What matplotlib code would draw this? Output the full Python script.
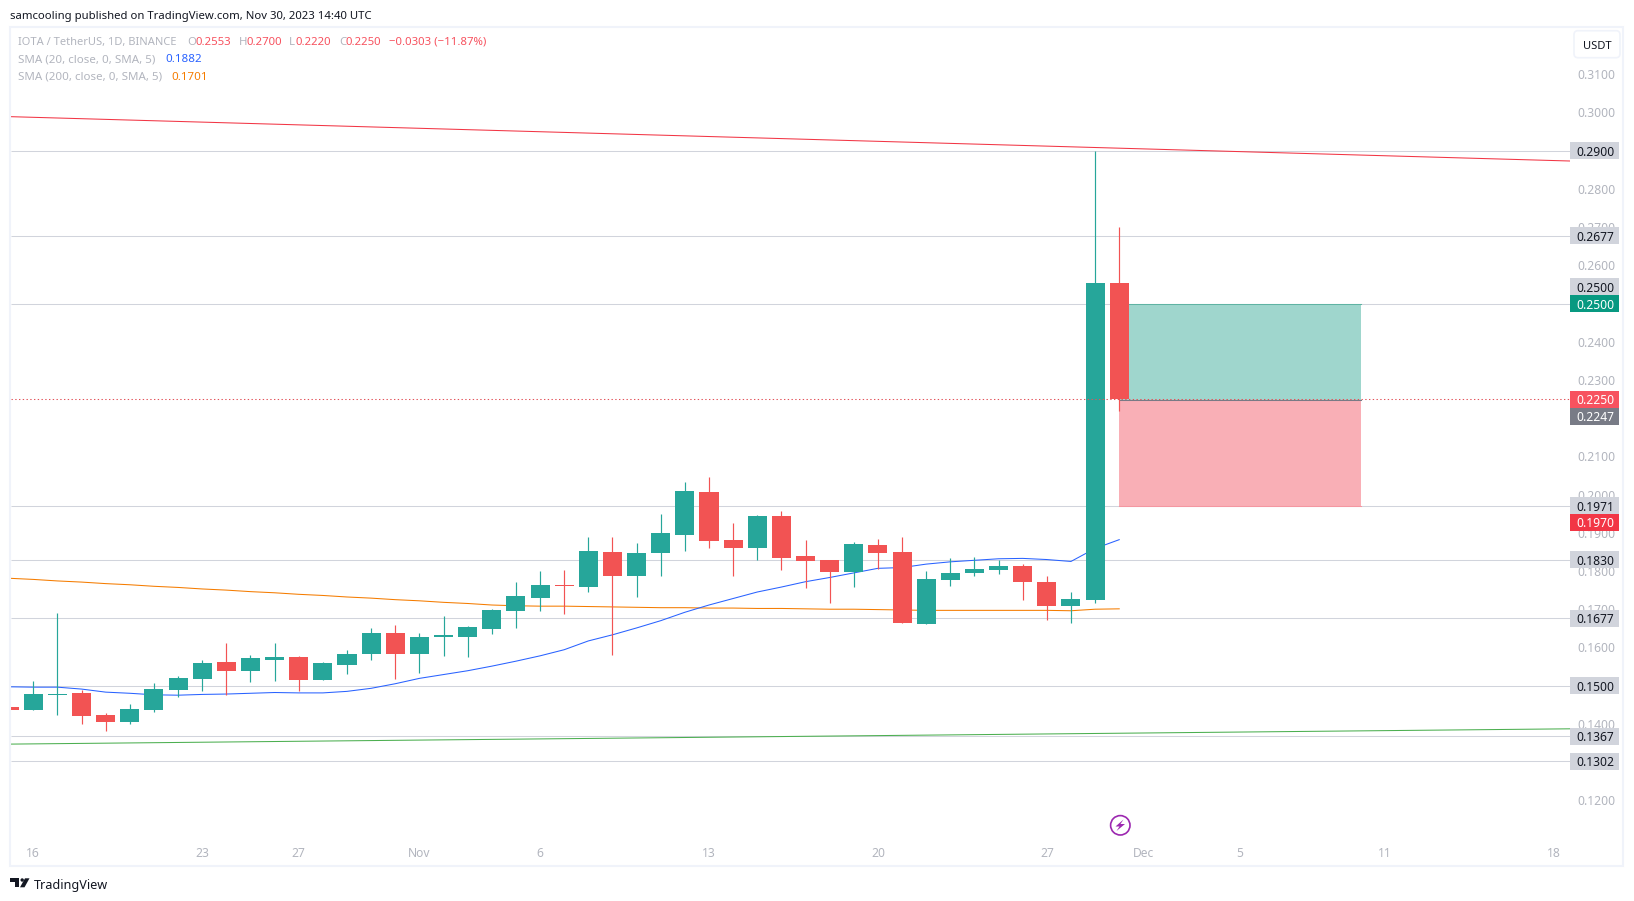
import numpy as np
import matplotlib
matplotlib.use('Agg')
import matplotlib.pyplot as plt
from matplotlib.patches import Rectangle, Circle, Polygon, FancyBboxPatch

plt.rcParams['font.family'] = ['Noto Sans', 'DejaVu Sans']

W, H = 1634, 901

# daily candles, first one is the cut off bar before Oct 16
bar_index = list(range(-1, 46))
opens = [.1444, .1436, .1475, .1480, .1423, .1405, .1436, .1488, .1517, .1561, .1538, .1567,
         .1575, .1514, .1554, .1582, .1637, .1584, .1626, .1628, .1649, .1695, .1729, .1763,
         .1758, .1849, .1786, .1847, .1894, .2006, .1881, .1860, .1943, .1839, .1828, .1797,
         .1867, .1849, .1662, .1776, .1794, .1802, .1813, .1771, .1708, .1724, .2553]
highs = [.1444, .1512, .1690, .1488, .1428, .1452, .1507, .1525, .1567, .1611, .1580, .1611,
         .1577, .1561, .1593, .1650, .1658, .1639, .1683, .1657, .1701, .1771, .1799, .1802,
         .1888, .1888, .1873, .1949, .2032, .2045, .1925, .1946, .1956, .1881, .1828, .1875,
         .1883, .1888, .1799, .1833, .1836, .1828, .1818, .1786, .1745, .2900, .2700]
lows = [.1436, .1436, .1423, .1399, .1381, .1399, .1431, .1470, .1486, .1475, .1509, .1512,
        .1486, .1514, .1530, .1567, .1517, .1534, .1578, .1576, .1636, .1650, .1695, .1687,
        .1745, .1581, .1731, .1786, .1852, .1860, .1786, .1828, .1802, .1755, .1716, .1758,
        .1805, .1665, .1662, .1760, .1786, .1792, .1724, .1673, .1665, .1716, .2220]
closes = [.1436, .1478, .1478, .1420, .1405, .1439, .1491, .1520, .1559, .1538, .1572, .1575,
          .1514, .1559, .1582, .1637, .1582, .1628, .1633, .1654, .1699, .1734, .1763, .1760,
          .1852, .1786, .1847, .1899, .2009, .1878, .1860, .1943, .1833, .1826, .1797, .1870,
          .1847, .1665, .1779, .1794, .1805, .1813, .1771, .1708, .1726, .2554, .2250]

sma20 = [.1497, .1496, .1496, .1491, .1483, .1480, .1476, .1475, .1477, .1478, .1480, .1482,
         .1481, .1481, .1485, .1493, .1505, .1519, .1529, .1539, .1551, .1564, .1578, .1594,
         .1617, .1633, .1651, .1670, .1692, .1711, .1728, .1745, .1758, .1772, .1783, .1795,
         .1807, .1809, .1818, .1824, .1828, .1832, .1833, .1830, .1825, .1859, .1882]
sma200 = [.1781, .1778, .1774, .1771, .1767, .1764, .1760, .1757, .1753, .1750, .1746, .1743,
          .1739, .1736, .1732, .1729, .1725, .1722, .1718, .1715, .1711, .1709, .1708, .1708,
          .1707, .1706, .1705, .1704, .1704, .1703, .1703, .1702, .1702, .1701, .1700, .1700,
          .1699, .1698, .1697, .1697, .1697, .1697, .1697, .1697, .1696, .1700, .1701]

# drawn levels
levels = [.2900, .2677, .2500, .1971, .1830, .1677, .1500, .1367, .1302]
last_close = .2250
trend_red_x = [-0.924, 63.68]
trend_red_y = [.2989, .2873]
trend_green_x = [-0.924, 63.68]
trend_green_y = [.1347, .1387]

# long position tool
pos_start, pos_end = 45, 55
pos_target, pos_entry, pos_stop = .2500, .2247, .1970

ytick_vals = [.12, .13, .14, .15, .16, .17, .18, .19, .20, .21, .22, .23, .24, .25, .26, .27, .28, .29, .30, .31]
xtick_pos = [0, 7, 11, 16, 21, 28, 35, 42, 46, 50, 56, 63]
xtick_labels = ['16', '23', '27', 'Nov', '6', '13', '20', '27', 'Dec', '5', '11', '18']

# price tags: label, y where the tag sits, fill, text colour
tag_labels = ['0.2900', '0.2677', '0.2500', '0.2500', '0.2250', '0.2247', '0.1971', '0.1970',
              '0.1830', '0.1677', '0.1500', '0.1367', '0.1302']
tag_y = [.2900, .2677, .2544, .2500, .2250, .2205, .1971, .1927, .1830, .1677, .1500, .1367, .1302]
tag_fill = ['#d1d4dc', '#d1d4dc', '#d1d4dc', '#089981', '#f7525f', '#787b86', '#d1d4dc', '#f23645',
            '#d1d4dc', '#d1d4dc', '#d1d4dc', '#d1d4dc', '#d1d4dc']
tag_text = ['#131722', '#131722', '#131722', 'white', 'white', 'white', '#131722', 'white',
            '#131722', '#131722', '#131722', '#131722', '#131722']

UP = '#26a69a'
DOWN = '#f25353'
GREY = '#b2b5be'
LW = 0.75

fig = plt.figure(figsize=(W / 100, H / 100), dpi=100, facecolor='white')

# price pane, pixels 11..1570 across and 27..841 down
ax = fig.add_axes([11 / W, 1 - 841 / H, 1559 / W, 814 / H])
ax.set_xlim(-0.924, 63.68)
ax.set_ylim(.10934, .32237)
for s in ax.spines.values():
    s.set_visible(False)

ax.hlines(levels, -0.924, 63.68, color='#d1d4dc', lw=LW, zorder=1)
ax.plot(bar_index, sma200, color='#f57c00', lw=LW, zorder=2)
ax.plot(bar_index, sma20, color='#2962ff', lw=LW, zorder=2)

o = np.array(opens)
c = np.array(closes)
colors = [UP if b >= a else DOWN for a, b in zip(o, c)]
ax.vlines(bar_index, lows, highs, color=colors, lw=0.85, zorder=3)
ax.bar(bar_index, np.abs(c - o), bottom=np.minimum(o, c), width=0.79, color=colors, lw=0, zorder=3)

# position boxes
ax.fill_between([pos_start, pos_end], pos_entry, pos_target, color='#9fd6cd', lw=0, zorder=2.5)
ax.fill_between([pos_start, pos_end], pos_stop, pos_entry, color='#f9afb6', lw=0, zorder=2.5)
ax.plot([pos_start, pos_end], [pos_target, pos_target], color='#5fb3a3', lw=LW, zorder=2.6)
ax.plot([pos_start, pos_end], [pos_entry, pos_entry], color='#787b86', lw=LW, zorder=2.6)
ax.plot([pos_start, pos_end], [pos_stop, pos_stop], color='#f497a1', lw=LW, zorder=2.6)

ax.plot(trend_red_x, trend_red_y, color='#f23645', lw=LW, zorder=4)
ax.plot(trend_green_x, trend_green_y, color='#4caf50', lw=LW, zorder=4)
ax.hlines(last_close, -0.924, 63.68, color='#e2525a', lw=LW, linestyles=(0, (1.3, 2.3)), zorder=4)

ax.yaxis.tick_right()
ax.set_yticks(ytick_vals)
ax.set_yticklabels(['%.4f' % v for v in ytick_vals], fontsize=8.7, color=GREY)
ax.tick_params(axis='y', length=0, pad=5.5)
ax.set_xticks(xtick_pos)
ax.set_xticklabels(xtick_labels, fontsize=8.7, color=GREY)
ax.tick_params(axis='x', length=0, pad=4)
for t in ax.get_xticklabels():
    if t.get_text() in ('Nov', 'Dec'):
        t.set_fontweight('bold')

# tags on the price scale
tr = ax.get_yaxis_transform()
tag_w = 49 / 1559
tag_h = 17 / 3821
for lab, y, fill, col in zip(tag_labels, tag_y, tag_fill, tag_text):
    ax.add_patch(Rectangle((1, y - tag_h / 2), tag_w, tag_h, transform=tr, facecolor=fill,
                           edgecolor='none', clip_on=False, zorder=5))
    ax.text(1 + 25.5 / 1559, y, lab, transform=tr, ha='center', va='center_baseline', fontsize=8.7, color=col,
            fontweight='bold' if col == 'white' else 'normal', zorder=6)

# everything around the chart goes on a pixel overlay
ov = fig.add_axes([0, 0, 1, 1])
ov.set_xlim(0, W)
ov.set_ylim(H, 0)
ov.axis('off')
ov.add_patch(Rectangle((10, 26.7), 1613, 839, fill=False, edgecolor='#f0f3fa', lw=1.5))
ov.add_patch(FancyBboxPatch((1576, 32.7), 42, 23, boxstyle='round,pad=2,rounding_size=4',
                            facecolor='white', edgecolor='#f0f3fa', lw=1.2))
ov.text(1597, 44.7, 'USDT', ha='center', va='center_baseline', fontsize=8, color='#131722')

ov.text(10, 14.5, 'samcooling published on TradingView.com, Nov 30, 2023 14:40 UTC', va='center_baseline',
        fontsize=8.15, color='#131722')

RED_TXT = '#f7525f'
for x, s, col, fs in [(18, 'IOTA / TetherUS, 1D, BINANCE', GREY, 8.0), (187, 'O', GREY, 8.2), (195.5, '0.2553', RED_TXT, 8.2),
                      (239, 'H', GREY, 8.2), (247, '0.2700', RED_TXT, 8.2), (289, 'L', GREY, 8.2), (296, '0.2220', RED_TXT, 8.2),
                      (339, 'C', GREY, 8.2), (346, '0.2250', RED_TXT, 8.2), (389, '−0.0303 (−11.87%)', RED_TXT, 8.2)]:
    ov.text(x, 41, s, va='center_baseline', fontsize=fs, color=col)
ov.text(18, 58.5, 'SMA (20, close, 0, SMA, 5)', va='center_baseline', fontsize=8.3, color=GREY)
ov.text(165, 58.5, '0.1882', va='center_baseline', fontsize=8.3, color='#2962ff')
ov.text(18, 75.5, 'SMA (200, close, 0, SMA, 5)', va='center_baseline', fontsize=8.3, color=GREY)
ov.text(171, 75.5, '0.1701', va='center_baseline', fontsize=8.3, color='#f57c00')

# earnings / event icon
ov.add_patch(Circle((1120.3, 825.3), 9.7, fill=False, edgecolor='#9c27b0', lw=1.2))
ov.add_patch(Polygon([(1123.5, 819.5), (1115.5, 826.5), (1119.5, 826.5), (1116.5, 831), (1125, 824), (1120.5, 824)],
                     closed=True, facecolor='#9c27b0', edgecolor='none'))

# logo
ov.add_patch(Polygon([(10, 878.3), (19.3, 878.3), (19.3, 887.3), (14.7, 887.3), (14.7, 881.8), (10, 881.8)],
                     closed=True, facecolor='#131722', edgecolor='none'))
ov.add_patch(Circle((22.2, 880), 1.7, facecolor='#131722', edgecolor='none'))
ov.add_patch(Polygon([(25, 878.3), (29.5, 878.3), (24.5, 887.3), (20, 887.3)], closed=True,
                     facecolor='#131722', edgecolor='none'))
ov.text(33.5, 883.5, 'TradingView', va='center_baseline', fontsize=9.1, color='#131722')

fig.savefig('out.png', dpi=100)
